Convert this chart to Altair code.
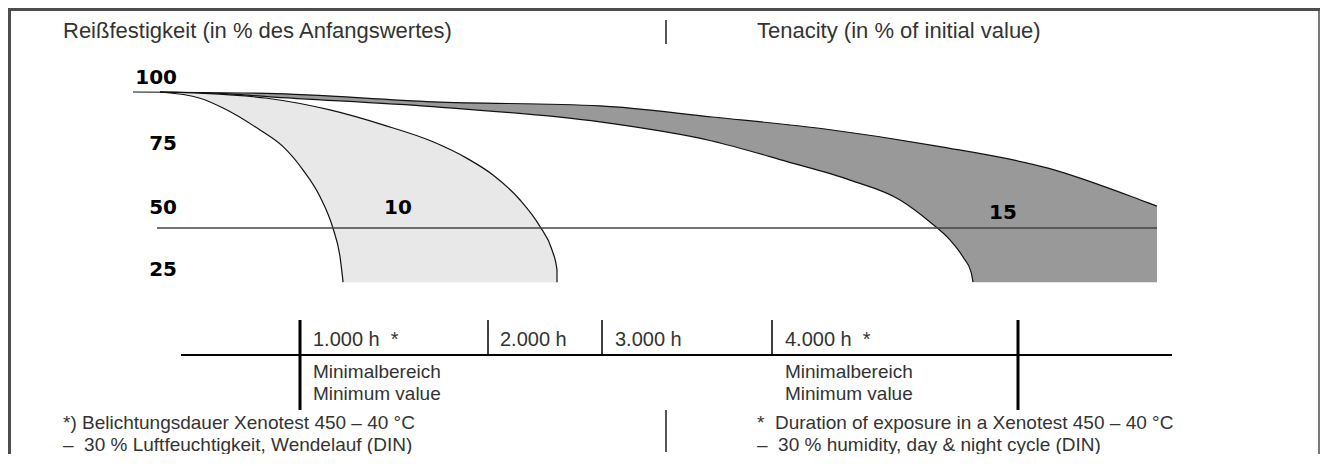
import altair as alt
import pandas as pd

# ---------------- data ----------------
# x in hours of exposure, y in % of initial tenacity
light_inner_h = [169, 419, 563, 794, 938, 1063, 1169, 1250, 1294, 1313]
light_inner_p = [100, 97.7, 94.1, 86.0, 79.9, 71.3, 61.5, 49.9, 39.4, 30.1]
light_outer_h = [169, 438, 838, 1231, 1563, 1875, 2088, 2250, 2419, 2544, 2619, 2650, 2650]
light_outer_p = [100, 99.5, 97.7, 93.4, 87.9, 81.7, 75.6, 69.5, 60.3, 50.5, 41.9, 34.6, 30.1]
dark_upper_h = [0, 838, 1875, 2919, 3619, 4325, 5025, 5725, 6288, 6400]
dark_upper_p = [100, 99.5, 96.4, 94.9, 90.8, 86.4, 80.1, 71.9, 60.5, 58.0]
dark_lower_h = [169, 544, 838, 1875, 2919, 3619, 4088, 4481, 4794, 4981, 5106, 5188, 5238, 5250]
dark_lower_p = [100, 99.5, 98.3, 94.6, 89.0, 82.0, 74.4, 67.6, 60.3, 52.2, 45.6, 39.3, 33.8, 30.1]
dark_end_h = 6400
floor_p = 30.1
threshold_p = 50
threshold_h = [150, 6400]

title_de = "Reißfestigkeit (in % des Anfangswertes)"
title_en = "Tenacity (in % of initial value)"
y_labels = ["100", "75", "50", "25"]
band_labels = ["10", "15"]
hour_labels = ["1.000 h \u00a0*", "2.000 h", "3.000 h", "4.000 h \u00a0*"]
min_labels = ["Minimalbereich", "Minimum value"]
foot_de = ["*) Belichtungsdauer Xenotest 450 – 40 °C", "– \u00a030 % Luftfeuchtigkeit, Wendelauf (DIN)"]
foot_en = ["* \u00a0Duration of exposure in a Xenotest 450 – 40 °C", "– \u00a030 % humidity, day & night cycle (DIN)"]

# ---------------- styling ----------------
SANS = "Liberation Sans, Arial, sans-serif"
BOLD = "DejaVu Sans, Verdana, sans-serif"
TXT = "#333333"
BORDER = "#4d4d4d"
LIGHT = "#e8e8e8"
DARK = "#999999"

X = dict(scale=alt.Scale(domain=[0, 7000], range=[125, 1245], nice=False), axis=None)
Y = dict(scale=alt.Scale(domain=[0, 100], range=[356, 84], nice=False), axis=None)


def polygon(h1, p1, h2, p2):
    hs = list(h1) + list(reversed(h2))
    ps = list(p1) + list(reversed(p2))
    return pd.DataFrame({"h": hs, "p": ps, "o": range(len(hs))})


light_poly = polygon(light_outer_h, light_outer_p,
                     light_inner_h + [light_inner_h[-1]], light_inner_p + [floor_p])
dark_poly = polygon(dark_upper_h + [dark_end_h], dark_upper_p + [floor_p],
                    dark_lower_h, dark_lower_p)


def fill_layer(df, color):
    return alt.Chart(df).mark_line(fill=color, strokeWidth=0, interpolate="monotone").encode(
        x=alt.X("h:Q", **X), y=alt.Y("p:Q", **Y), order="o:Q")


def curve(hs, ps, color="#111111", w=1.2):
    df = pd.DataFrame({"h": hs, "p": ps, "o": range(len(hs))})
    return alt.Chart(df).mark_line(color=color, strokeWidth=w, interpolate="monotone").encode(
        x=alt.X("h:Q", **X), y=alt.Y("p:Q", **Y), order="o:Q")


dummy = pd.DataFrame({"k": [0]})


def text(t, x, y, size=19, font=SANS, weight="normal", align="left", color=TXT):
    return alt.Chart(pd.DataFrame({"t": [t]})).mark_text(
        align=align, baseline="middle", font=font, fontSize=size, fontWeight=weight, color=color
    ).encode(x=alt.value(x), y=alt.value(y), text="t:N")


def vrule(x, y1, y2, w=1.0, color="black"):
    return alt.Chart(dummy).mark_rule(strokeWidth=w, color=color).encode(
        x=alt.value(x), y=alt.value(y1), y2=alt.value(y2))


def hrule(x1, x2, y, w=1.0, color="black"):
    return alt.Chart(dummy).mark_rule(strokeWidth=w, color=color).encode(
        x=alt.value(x1), x2=alt.value(x2), y=alt.value(y))


thr = pd.DataFrame({"h": [threshold_h[0]], "h2": [threshold_h[1]], "p": [threshold_p]})
threshold = alt.Chart(thr).mark_rule(color="#444444", strokeWidth=1.3).encode(
    x=alt.X("h:Q", **X), x2="h2:Q", y=alt.Y("p:Q", **Y))

layers = [
    # frame
    hrule(0, 1312, 1.5, 3, BORDER),
    vrule(1.5, 0, 446, 3, BORDER),
    vrule(1311, 0, 446, 1.5, BORDER),
    # header
    text(title_de, 55, 23, 22),
    text(title_en, 749, 23, 22),
    vrule(658, 12, 36, 2, "#555555"),
    # bands
    fill_layer(dark_poly, DARK),
    fill_layer(light_poly, LIGHT),
    curve(dark_upper_h, dark_upper_p),
    curve(dark_lower_h, dark_lower_p),
    curve(light_outer_h, light_outer_p),
    curve(light_inner_h, light_inner_p),
    threshold,
    # y labels
    text(y_labels[0], 169, 69.5, 20, BOLD, "bold", "right", "black"),
    text(y_labels[1], 169, 135.5, 20, BOLD, "bold", "right", "black"),
    text(y_labels[2], 169, 200, 20, BOLD, "bold", "right", "black"),
    text(y_labels[3], 169, 261.5, 20, BOLD, "bold", "right", "black"),
    text(band_labels[0], 390, 200, 20, BOLD, "bold", "center", "black"),
    text(band_labels[1], 995, 205, 20, BOLD, "bold", "center", "black"),
    # table
    hrule(173, 1164, 347, 2),
    vrule(292, 312, 402, 3),
    vrule(480, 312, 347, 1.5),
    vrule(594, 312, 347, 1.5),
    vrule(764, 312, 347, 1.5),
    vrule(1010, 312, 402, 3),
    text(hour_labels[0], 305, 332, 20),
    text(hour_labels[1], 492, 332, 20),
    text(hour_labels[2], 607, 332, 20),
    text(hour_labels[3], 777, 332, 20),
    text(min_labels[0], 305, 364),
    text(min_labels[1], 305, 386),
    text(min_labels[0], 777, 364),
    text(min_labels[1], 777, 386),
    # footnotes
    text(foot_de[0], 55, 415),
    text(foot_de[1], 55, 437),
    text(foot_en[0], 749, 415),
    text(foot_en[1], 749, 437),
    vrule(658, 402, 444, 2, "#555555"),
]

chart = alt.layer(*layers).properties(
    width=1312, height=446, autosize=alt.AutoSizeParams(type="none"), padding=0
).configure_view(strokeWidth=0).configure(background="white")

chart.save("out.html", embed_options={"renderer": "svg", "actions": False})
